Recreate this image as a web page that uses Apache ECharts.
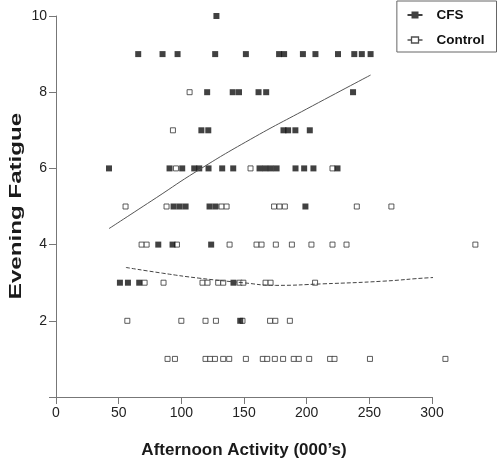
<!DOCTYPE html>
<html>
<head>
<meta charset="utf-8">
<script src="https://cdn.jsdelivr.net/npm/echarts@6/dist/echarts.min.js"></script>
<style>
html,body{margin:0;padding:0;background:#fff;}
#chart{width:497px;height:461px;}
</style>
</head>
<body>
<div id="chart"></div>
<script>
// Afternoon activity (000's) vs evening fatigue, CFS group
const cfsPoints = [
  [128,10],
  [65.6,9],[85,9],[97,9],[127,9],[151.5,9],[178,9],[182,9],[197,9],[207,9],[225,9],[238,9],[244,9],[251,9],
  [120.6,8],[141,8],[146,8],[161.6,8],[167.7,8],[237,8],
  [116,7],[121.5,7],[181.5,7],[185.2,7],[191,7],[202.5,7],
  [42.3,6],[90.6,6],[100.7,6],[110.3,6],[114.3,6],[121.7,6],[132.6,6],[141.4,6],[162.4,6],[166.9,6],[171.4,6],[176,6],[191.1,6],[198,6],[205.4,6],[224.6,6],
  [93.8,5],[98.6,5],[103.4,5],[122.5,5],[127.3,5],[199,5],
  [81.6,4],[93,4],[123.8,4],
  [51,3],[57.4,3],[66.4,3],[141.6,3],
  [147,2]
];
// Control group
const controlPoints = [
  [106.6,8],
  [93.3,7],
  [95.7,6],[155.2,6],[220.6,6],
  [55.5,5],[88.2,5],[132.1,5],[136.1,5],[174,5],[178.3,5],[182.6,5],[240,5],[267.6,5],
  [68.3,4],[72.3,4],[96.5,4],[138.5,4],[160,4],[164,4],[175.4,4],[188.2,4],[203.8,4],[220.6,4],[231.8,4],[334.6,4],
  [70.7,3],[85.8,3],[116.9,3],[120.9,3],[129.4,3],[133.4,3],[146.5,3],[149.5,3],[167.2,3],[171.2,3],[206.7,3],
  [56.9,2],[100,2],[119.3,2],[127.6,2],[148.8,2],[170.8,2],[175,2],[186.6,2],
  [89,1],[94.9,1],[119.3,1],[123,1],[126.8,1],[133.4,1],[138.2,1],[151.5,1],[165,1],[168.5,1],[174.6,1],[181.2,1],[189.7,1],[193.7,1],[202,1],[218.7,1],[222.2,1],[250.5,1],[310.7,1]
];
// Fitted curves
const cfsFit = [[42.3,4.42],[80,5.23],[112,5.92],[155,6.76],[200,7.56],[251,8.45]];
const controlFit = [[55.8,3.40],[85,3.25],[114,3.12],[149,3.0],[175,2.93],[213,2.97],[261,3.04],[298,3.13],[335,3.18]];

const FONT = '"Liberation Sans", Arial, sans-serif';
const cfsIcon = 'path://M0,2.5 H4 V0 H11 V2.5 H15 V4.5 H11 V7 H4 V4.5 H0 Z';
const ctrlIcon = 'path://M0,3.5 H4 M4,0.5 H11 V6.5 H4 Z M11,3.5 H15';

const chart = echarts.init(document.getElementById('chart'), null, {renderer:'canvas'});
chart.setOption({
  animation: false,
  backgroundColor: '#fff',
  grid: {left: 56, right: 65, top: 16, bottom: 64, outerBoundsMode: 'none', containLabel: false},
  legend: {
    orient: 'vertical', right: 0.5, top: 1,
    data: [
      {name: 'CFS', icon: cfsIcon},
      {name: 'Control', icon: ctrlIcon, itemStyle: {color: '#fff', borderColor: '#222', borderWidth: 1.3}}
    ],
    itemWidth: 15, itemHeight: 7, itemGap: 11,
    padding: [7, 12, 5, 10],
    borderColor: '#666', borderWidth: 1, borderRadius: 0,
    textStyle: {fontFamily: FONT, fontSize: 13.5, fontWeight: 'bold', color: '#111', padding: [0,0,0,9]}
  },
  graphic: [{
    type: 'text', x: 16, y: 206, rotation: Math.PI / 2, scaleX: 1.42, silent: true,
    style: {text: 'Evening Fatigue', fontFamily: FONT, fontSize: 17, fontWeight: 'bold', fill: '#1a1a1a',
      align: 'center', verticalAlign: 'middle'}
  }],
  xAxis: {
    type: 'value', min: 0, max: 300, interval: 50,
    name: 'Afternoon Activity (000’s)', nameLocation: 'middle', nameGap: 45,
    nameTextStyle: {fontFamily: FONT, fontSize: 17, fontWeight: 'bold', color: '#1a1a1a'},
    axisLine: {show: true, lineStyle: {color: '#777', width: 1}},
    axisTick: {show: true, length: 7, lineStyle: {color: '#777'}},
    axisLabel: {fontFamily: FONT, fontSize: 14, color: '#222', margin: 9},
    splitLine: {show: false}
  },
  yAxis: {
    type: 'value', min: 0, max: 10, interval: 2,
    axisLine: {show: true, lineStyle: {color: '#777', width: 1}},
    axisTick: {show: true, length: 7, lineStyle: {color: '#777'}},
    axisLabel: {fontFamily: FONT, fontSize: 14, color: '#222', margin: 9,
      formatter: v => v === 0 ? '' : String(v)},
    splitLine: {show: false}
  },
  series: [
    {
      name: 'Control', type: 'scatter', data: controlPoints, symbol: 'rect', symbolSize: 5, z: 2, clip: false,
      itemStyle: {color: '#fff', borderColor: '#333', borderWidth: 1}
    },
    {
      name: 'CFS', type: 'scatter', data: cfsPoints, symbol: 'rect', symbolSize: 6, z: 3, clip: false,
      itemStyle: {color: '#111'}
    },
    {
      name: 'CFS fit', type: 'line', data: cfsFit, smooth: true, showSymbol: false, silent: true, z: 4, clip: false,
      lineStyle: {color: '#555', width: 1}
    },
    {
      name: 'Control fit', type: 'line', data: controlFit, smooth: true, showSymbol: false, silent: true, z: 4, clip: false,
      lineStyle: {color: '#444', width: 1, type: [4, 2]}
    }
  ]
});
</script>
</body>
</html>
